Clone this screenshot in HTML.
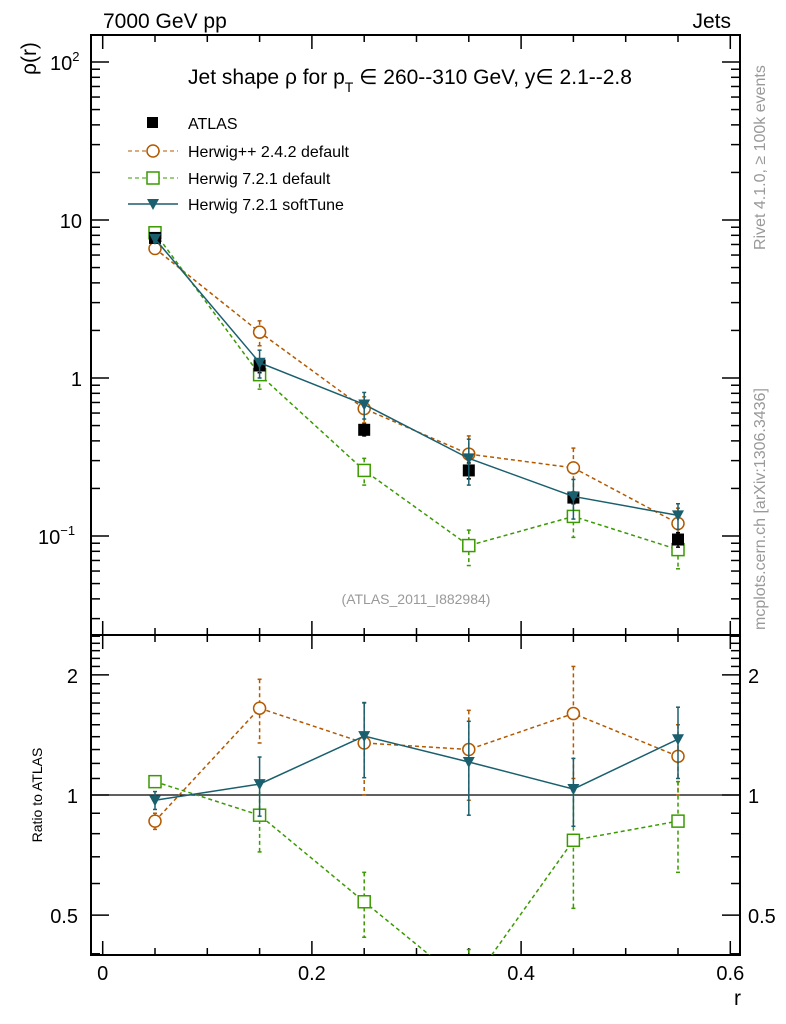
<!DOCTYPE html>
<html><head><meta charset="utf-8"><style>
html,body{margin:0;background:#fff;overflow:hidden;width:786px;height:1024px;}
svg{display:block;font-family:"Liberation Sans","DejaVu Sans",sans-serif;}
</style></head><body>
<svg id="c" width="786" height="1024" xmlns="http://www.w3.org/2000/svg">
<text x="103" y="28" font-size="21">7000 GeV pp</text>
<text x="731" y="28" font-size="21" text-anchor="end">Jets</text>
<text x="410" y="84" font-size="21" text-anchor="middle">Jet shape ρ for p<tspan font-size="14" dy="8">T</tspan><tspan dy="-8"> ∈ 260--310 GeV, y∈ 2.1--2.8</tspan></text>
<text transform="translate(36,75) rotate(-90)" font-size="21">ρ(r)</text>
<text transform="translate(42,795) rotate(-90)" font-size="14" text-anchor="middle">Ratio to ATLAS</text>
<text x="741" y="1005" font-size="21" text-anchor="end">r</text>
<text transform="translate(765,250) rotate(-90)" font-size="16" fill="#999">Rivet 4.1.0, ≥ 100k events</text>
<text transform="translate(765,630) rotate(-90)" font-size="16" fill="#999">mcplots.cern.ch [arXiv:1306.3436]</text>
<text x="416" y="604" font-size="14" fill="#999" text-anchor="middle">(ATLAS_2011_I882984)</text>
<g id="legend">
<g><rect x="147" y="117" width="11" height="11" fill="#000"/><text x="188" y="129" font-size="16">ATLAS</text></g>
<g><line x1="128" y1="151" x2="178" y2="151" stroke="#b35900" stroke-dasharray="4,3"/><circle cx="153" cy="151" r="6" fill="#fff" stroke="#b35900" stroke-width="1.5"/><text x="188" y="157" font-size="16">Herwig++ 2.4.2 default</text></g>
<g><line x1="128" y1="178" x2="178" y2="178" stroke="#3a9a00" stroke-dasharray="4,3"/><rect x="147" y="172" width="12" height="12" fill="#fff" stroke="#3a9a00" stroke-width="1.5"/><text x="188" y="184" font-size="16">Herwig 7.2.1 default</text></g>
<g><line x1="128" y1="204" x2="178" y2="204" stroke="#1a5f6e" stroke-width="1.5"/><path d="M147,199 L159,199 L153,210 Z" fill="#1a5f6e"/><text x="188" y="210" font-size="16">Herwig 7.2.1 softTune</text></g>
</g>
<g id="axes"></g>
<g id="marks"></g>
</svg>
<script>
const rVals=[0.05,0.15,0.25,0.35,0.45,0.55];
const atlas=[7.7,1.2,0.47,0.26,0.175,0.095];
const atlasErr=[0.5,0.12,0.04,0.03,0.015,0.01];
const hpp=[6.6,1.95,0.64,0.33,0.27,0.12];
const hppErr=[0.3,0.35,0.12,0.1,0.09,0.03];
const h721=[8.3,1.05,0.26,0.087,0.133,0.082];
const h721Err=[0.4,0.2,0.05,0.022,0.035,0.02];
const hsoft=[7.6,1.25,0.68,0.31,0.178,0.135];
const hsoftErr=[0.4,0.25,0.13,0.1,0.05,0.025];
const rHpp=[0.86,1.65,1.35,1.3,1.6,1.25];
const rHppErr=[0.04,0.3,0.35,0.33,0.5,0.25];
const rH721=[1.08,0.89,0.54,0.33,0.77,0.86];
const rH721Err=[0.03,0.17,0.1,0.08,0.25,0.22];
const rSoft=[0.97,1.065,1.405,1.21,1.035,1.38];
const rSoftErr=[0.05,0.18,0.3,0.32,0.2,0.28];
const xTicks=[0,0.2,0.4,0.6];
const ratioTicks=[0.5,1,2];

const NS="http://www.w3.org/2000/svg";
const axes=document.getElementById('axes');
const marks=document.getElementById('marks');
const L=91,R=740,T=35,M=635,B=955;
const X=v=>102.7+v*1046;
const Y=v=>220-158*(Math.log10(v)-1);
const YR=v=>795-399*Math.log10(v);
function el(tag,attrs,parent){const e=document.createElementNS(NS,tag);for(const k in attrs)e.setAttribute(k,attrs[k]);(parent||marks).appendChild(e);return e;}

let f1=el('rect',{x:L,y:T,width:R-L,height:M-T,fill:'none',stroke:'#000','stroke-width':2},axes);


let f2=el('rect',{x:L,y:M,width:R-L,height:B-M,fill:'none',stroke:'#000','stroke-width':2},axes);


for(let i=0;i<=12;i++){const v=i*0.05,x=X(v),len=(i%4==0)?14:7;
 [[T,1],[M,-1],[M,1],[B,-1]].forEach(([y0,d])=>el('line',{x1:x,y1:y0,x2:x,y2:y0+d*len,stroke:'#000','stroke-width':1.5},axes));}
xTicks.forEach(v=>{const t=el('text',{x:X(v),y:980,'font-size':20,'text-anchor':'middle'},axes);t.textContent=String(v);

});
for(let e=-2;e<=2;e++)for(let m=1;m<10;m++){const v=m*Math.pow(10,e);const y=Y(v);if(y<T||y>M)continue;const len=m==1?18:9;
 el('line',{x1:L,y1:y,x2:L+len,y2:y,stroke:'#000','stroke-width':1.5},axes);el('line',{x1:R,y1:y,x2:R-len,y2:y,stroke:'#000','stroke-width':1.5},axes);}
[[100,'10','2'],[10,'10',''],[1,'1',''],[0.1,'10','−1']].forEach(([v,b,s])=>{const t=el('text',{x:s?(s=='2'?73:68):82,y:Y(v)+8,'font-size':20,'text-anchor':'end'},axes);t.textContent=b;
 if(s){const sp=el('tspan',{'font-size':13,dy:-9},t);sp.textContent=s;t.setAttribute('text-anchor','start');t.setAttribute('x',s=='2'?50:38);}

});
for(let i=4;i<=25;i++){const v=i/10;const y=YR(v);if(y<M||y>B)continue;const major=(v==0.5||v==1||v==2);const len=major?18:9;
 el('line',{x1:L,y1:y,x2:L+len,y2:y,stroke:'#000','stroke-width':1.5},axes);el('line',{x1:R,y1:y,x2:R-len,y2:y,stroke:'#000','stroke-width':1.5},axes);}
ratioTicks.forEach(v=>{[[78,'end'],[748,'start']].forEach(([x,a])=>{const t=el('text',{x:x,y:YR(v)+8,'font-size':20,'text-anchor':a},axes);t.textContent=String(v);

});});
el('line',{x1:L,y1:YR(1),x2:R,y2:YR(1),stroke:'#000','stroke-width':1.2},axes);

const cp=el('clipPath',{id:'cm'},axes);el('rect',{x:L,y:T,width:R-L,height:M-T},cp);
const cr=el('clipPath',{id:'cr'},axes);el('rect',{x:L,y:M,width:R-L,height:B-M},cr);
const gMain=el('g',{'clip-path':'url(#cm)'});
const gRat=el('g',{'clip-path':'url(#cr)'});

function marker(g,type,x,y,c){let m;
 if(type=='circle')m=el('circle',{cx:x,cy:y,r:6,fill:'#fff',stroke:c,'stroke-width':1.5},g);
 else if(type=='square')m=el('rect',{x:x-6,y:y-6,width:12,height:12,fill:'#fff',stroke:c,'stroke-width':1.5},g);
 else if(type=='fsquare')m=el('rect',{x:x-6,y:y-6,width:12,height:12,fill:c},g);
 else m=el('path',{d:`M${x-6},${y-5} L${x+6},${y-5} L${x},${y+6} Z`,fill:c},g);
 return m;}
function series(g,vals,errs,Yf,c,dash,type,name,line){
 const pts=vals.map((v,i)=>[X(rVals[i]),Yf(v)]);
 if(line){const p=el('polyline',{points:pts.map(p=>p.join(',')).join(' '),fill:'none',stroke:c,'stroke-width':1.5,'stroke-dasharray':dash},g);
 
 }
 vals.forEach((v,i)=>{const x=pts[i][0];
  if(errs){const y1=Yf(v+errs[i]),y2=Yf(Math.max(v-errs[i],1e-4));
   el('line',{x1:x,y1:y1,x2:x,y2:y2,stroke:c,'stroke-width':1.5,'stroke-dasharray':dash},g);
   el('line',{x1:x-2,y1:y1,x2:x+2,y2:y1,stroke:c,'stroke-width':1.5},g);el('line',{x1:x-2,y1:y2,x2:x+2,y2:y2,stroke:c,'stroke-width':1.5},g);}
  const m=marker(g,type,x,pts[i][1],c);
  
  });}
series(gMain,hpp,hppErr,Y,'#b35900','4,3','circle','herwigpp',true);
series(gMain,h721,h721Err,Y,'#3a9a00','4,3','square','herwig721-default',true);
series(gMain,atlas,atlasErr,Y,'#000','','fsquare','atlas',false);
series(gMain,hsoft,hsoftErr,Y,'#1a5f6e','','tri','herwig721-softtune',true);
series(gRat,rHpp,rHppErr,YR,'#b35900','4,3','circle','ratio-herwigpp',true);
series(gRat,rH721,rH721Err,YR,'#3a9a00','4,3','square','ratio-herwig721-default',true);
series(gRat,rSoft,rSoftErr,YR,'#1a5f6e','','tri','ratio-herwig721-softtune',true);
</script>
</body></html>
